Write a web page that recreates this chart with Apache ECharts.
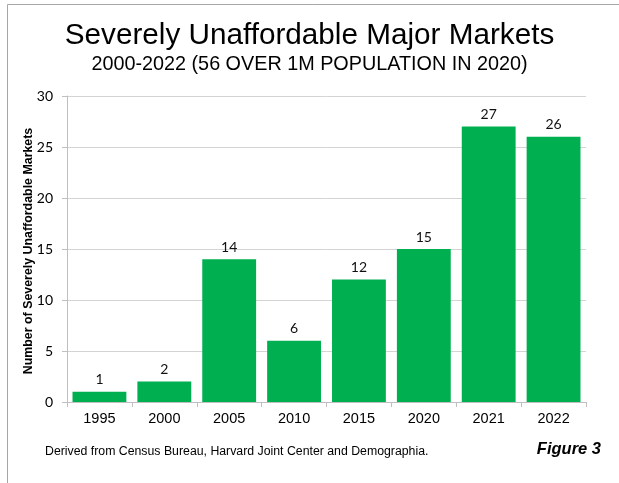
<!DOCTYPE html>
<html><head><meta charset="utf-8">
<script src="https://cdn.jsdelivr.net/npm/echarts@6/dist/echarts.min.js"></script>
<style>html,body{margin:0;padding:0;background:#fff}#c{width:619px;height:483px}</style>
</head><body><div id="c"></div>
<script>
var categories = ['1995','2000','2005','2010','2015','2020','2021','2022'];
var values = [1, 2, 14, 6, 12, 15, 27, 26];
var yTicks = [0, 5, 10, 15, 20, 25, 30];
var yTitle = 'Number of Severely Unaffordable Markets';

var SANS = '"Liberation Sans",Arial,sans-serif';
var HUM = 'Lato,"Open Sans",sans-serif';
var chart = echarts.init(document.getElementById('c'), null, {renderer: 'canvas'});
chart.setOption({
  animation: false,
  backgroundColor: '#fff',
  title: [
    {text: 'Severely Unaffordable Major Markets', left: 'center', top: 16,
     textStyle: {fontFamily: SANS, fontSize: 29.7, fontWeight: 'normal', color: '#000'}},
    {text: '2000-2022 (56 OVER 1M POPULATION IN 2020)', left: 'center', top: 50,
     textStyle: {fontFamily: SANS, fontSize: 19.8, fontWeight: 'normal', color: '#000'}}
  ],
  graphic: [
    {type: 'rect', shape: {x: 7.5, y: 4.5, width: 640, height: 500}, style: {fill: 'none', stroke: '#a6a6a6', lineWidth: 1}, z: -1},
    {type: 'text', x: 29, y: 251, rotation: Math.PI / 2,
     style: {text: yTitle, font: 'bold 12.4px ' + SANS, fill: '#000', align: 'center', verticalAlign: 'middle'}},
    {type: 'text', left: 45, top: 446, style: {text: 'Derived from Census Bureau, Harvard Joint Center and Demographia.', font: '12.3px ' + SANS, fill: '#000'}},
    {type: 'text', right: 18, top: 441, style: {text: 'Figure 3', font: 'italic bold 16.5px ' + SANS, fill: '#000'}}
  ],
  grid: {left: 67, right: 33, top: 96, bottom: 81},
  xAxis: {
    type: 'category', data: categories,
    axisLine: {lineStyle: {color: '#bfbfbf'}},
    axisTick: {show: true, length: 5, lineStyle: {color: '#bfbfbf'}},
    axisLabel: {fontFamily: SANS, fontSize: 14.5, color: '#000', margin: 9}
  },
  yAxis: {
    type: 'value', min: 0, max: 30, interval: 5,
    axisLine: {show: true, lineStyle: {color: '#bfbfbf'}},
    axisTick: {show: true, length: 5, lineStyle: {color: '#bfbfbf'}},
    axisLabel: {fontFamily: HUM, fontSize: 14, color: '#000', margin: 14,
      formatter: function (v) { return yTicks.indexOf(v) >= 0 ? String(v) : ''; }},
    splitLine: {lineStyle: {color: '#d4d4d4'}}
  },
  series: [{
    type: 'bar', data: values, barCategoryGap: '17%',
    itemStyle: {color: '#00b050'},
    label: {show: true, position: 'top', distance: 5, fontFamily: HUM, fontSize: 14, color: '#111'}
  }]
});
</script></body></html>
